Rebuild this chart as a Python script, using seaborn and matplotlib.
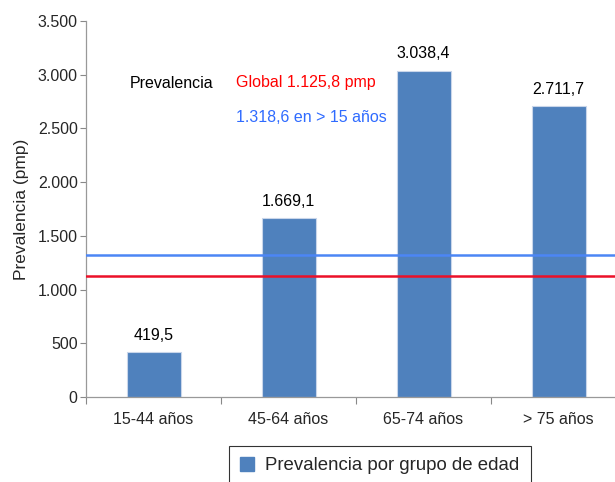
import matplotlib
matplotlib.use("Agg")
import matplotlib.pyplot as plt
from matplotlib.patches import Patch
from matplotlib.ticker import FuncFormatter, FixedLocator
import seaborn as sns
import pandas as pd

categories = ["15-44 años", "45-64 años", "65-74 años", "> 75 años"]
values = [419.5, 1669.1, 3038.4, 2711.7]
value_labels = ["419,5", "1.669,1", "3.038,4", "2.711,7"]
global_prev = 1125.8
adult_prev = 1318.6
yticks = [0, 500, 1000, 1500, 2000, 2500, 3000, 3500]

sns.set_style("white")
plt.rcParams['font.family'] = ['Liberation Sans', 'DejaVu Sans']

df = pd.DataFrame({'grupo': categories, 'prev': values})

fig = plt.figure(figsize=(6.15, 4.82), dpi=100)
ax = fig.add_axes([86 / 615, 85 / 482, 540 / 615, 376 / 482])

bar_color = '#4F81BD'
sns.barplot(data=df, x='grupo', y='prev', color=bar_color, width=0.4,
            saturation=1, edgecolor='#C9D6EA', linewidth=0.8, ax=ax)

for i, (v, lab) in enumerate(zip(values, value_labels)):
    ax.text(i, v + 85, lab, ha='center', va='bottom', fontsize=11.5, color='black')

ax.axhline(global_prev, color='#EC1028', lw=1.8, zorder=3)
ax.axhline(adult_prev, color='#4C86F5', lw=1.8, zorder=3)

ax.set_xlim(-0.5, 3.5)
ax.set_ylim(0, 3500)
ax.set_yticks(yticks)
ax.yaxis.set_major_formatter(FuncFormatter(lambda v, p: f"{int(v):,}".replace(",", ".")))
ax.tick_params(axis='y', which='major', left=True, length=4, width=0.8, color='#888888',
               labelsize=11.5, pad=2)
ax.tick_params(axis='x', which='major', bottom=False, labelsize=11.5, pad=7)
ax.xaxis.set_minor_locator(FixedLocator([-0.5, 0.5, 1.5, 2.5, 3.5]))
ax.tick_params(axis='x', which='minor', bottom=True, length=5, width=0.8, color='#888888')
ax.set_xlabel('')
ax.set_ylabel('Prevalencia (pmp)', fontsize=12.5, labelpad=6)

for s in ['top', 'right']:
    ax.spines[s].set_visible(False)
for s in ['left', 'bottom']:
    ax.spines[s].set_color('#999999')
    ax.spines[s].set_linewidth(0.9)

fig.text(130 / 615, 1 - 83 / 482, 'Prevalencia', fontsize=11.5, color='black', va='center')
fig.text(236 / 615, 1 - 83 / 482, 'Global 1.125,8 pmp', fontsize=11.5, color='#FF0000', va='center')
fig.text(236 / 615, 1 - 117 / 482, '1.318,6 en > 15 años', fontsize=11.5, color='#2F6BFF', va='center')

leg = fig.legend(handles=[Patch(facecolor=bar_color, edgecolor=bar_color)],
                 labels=['Prevalencia por grupo de edad'],
                 loc='upper left', bbox_to_anchor=(229 / 615, 1 - 446 / 482),
                 borderaxespad=0, frameon=True, fancybox=False, fontsize=13.4,
                 handlelength=0.75, handleheight=0.75, borderpad=0.6, handletextpad=0.6)
leg.get_frame().set_edgecolor('black')
leg.get_frame().set_linewidth(0.8)

fig.savefig('out.png', dpi=100)
